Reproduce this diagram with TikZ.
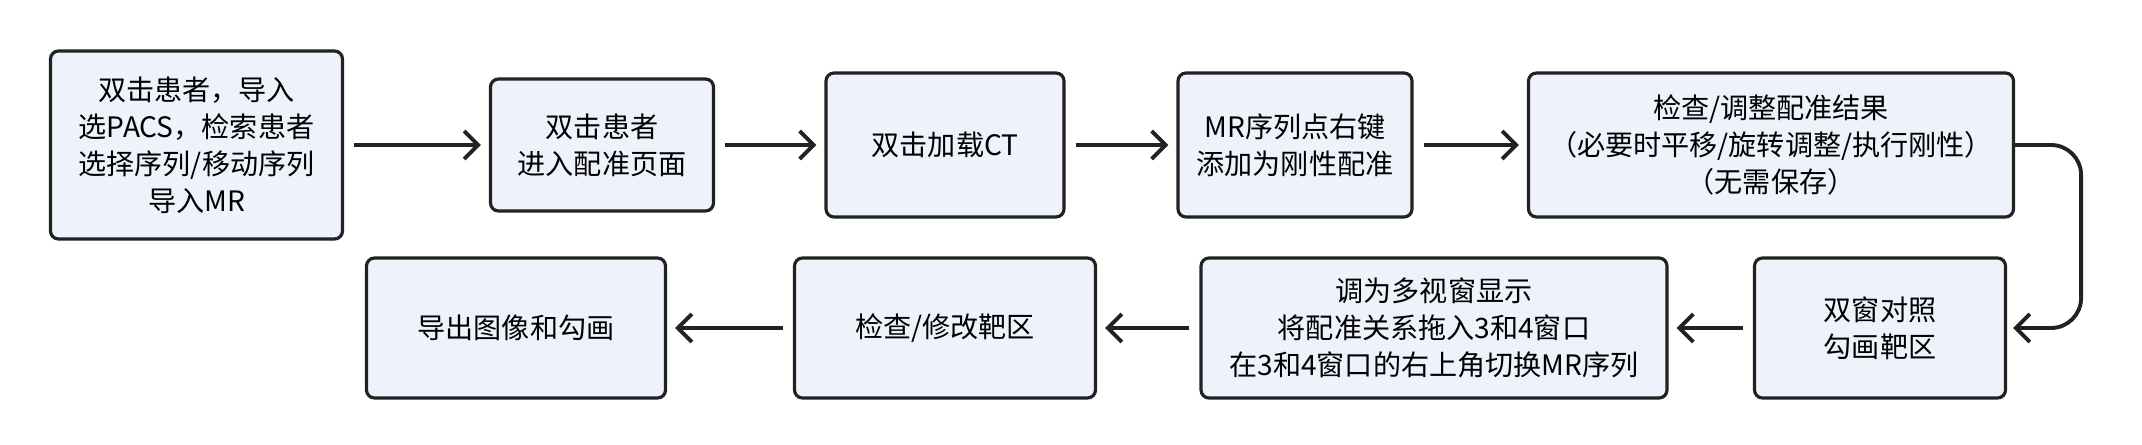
\documentclass[tikz,border=0pt]{standalone}
\usepackage{fontspec}
\newfontfamily\cjk{Noto Sans CJK SC}
\usetikzlibrary{arrows.meta}
\definecolor{box fill}{RGB}{238, 242, 251}
\definecolor{box line}{RGB}{34, 34, 34}

\begin{document}
\begin{tikzpicture}[
        font=\cjk\fontsize{8}{10.5}\selectfont,
        stepbox/.style={
            draw=box line,
            line width=0.9pt,
            fill=box fill,
            rounded corners=0.08cm,
            align=center,
            inner sep=0pt
        },
        flow/.style={
            draw=box line,
            line width=1.1pt,
            -{Straight Barb[length=0.14cm,width=0.28cm]}
        }
    ]
    \useasboundingbox (0,0) rectangle (21.42,4.44);

    % top row
    \node[stepbox, minimum width=2.92cm, minimum height=1.88cm] (import) at (1.965,2.99)
        {双击患者，导入\\选PACS，检索患者\\选择序列/移动序列\\导入MR};
    \node[stepbox, minimum width=2.23cm, minimum height=1.32cm] (enter) at (6.02,2.99)
        {双击患者\\进入配准页面};
    \node[stepbox, minimum width=2.38cm, minimum height=1.44cm] (loadct) at (9.45,2.99)
        {双击加载CT};
    \node[stepbox, minimum width=2.34cm, minimum height=1.44cm] (rigid) at (12.95,2.99)
        {MR序列点右键\\添加为刚性配准};
    \node[stepbox, minimum width=4.85cm, minimum height=1.44cm] (check) at (17.71,2.99)
        {检查/调整配准结果\\（必要时平移/旋转调整/执行刚性）\\（无需保存）};

    % bottom row
    \node[stepbox, minimum width=2.51cm, minimum height=1.40cm] (contour) at (18.80,1.16)
        {双窗对照\\勾画靶区};
    \node[stepbox, minimum width=4.66cm, minimum height=1.40cm] (multi) at (14.34,1.16)
        {调为多视窗显示\\将配准关系拖入3和4窗口\\在3和4窗口的右上角切换MR序列};
    \node[stepbox, minimum width=3.01cm, minimum height=1.40cm] (target) at (9.45,1.16)
        {检查/修改靶区};
    \node[stepbox, minimum width=2.99cm, minimum height=1.40cm] (export) at (5.16,1.16)
        {导出图像和勾画};

    % connectors
    \draw[flow] ([xshift=0.1cm]import.east) -- ([xshift=-0.08cm]enter.west);
    \draw[flow] ([xshift=0.1cm]enter.east) -- ([xshift=-0.08cm]loadct.west);
    \draw[flow] ([xshift=0.1cm]loadct.east) -- ([xshift=-0.08cm]rigid.west);
    \draw[flow] ([xshift=0.1cm]rigid.east) -- ([xshift=-0.08cm]check.west);
    \draw[flow, rounded corners=0.3cm] (check.east) -- ++(0.66,0) |- ([xshift=0.06cm]contour.east);
    \draw[flow] ([xshift=-0.1cm]contour.west) -- ([xshift=0.08cm]multi.east);
    \draw[flow] ([xshift=-0.1cm]multi.west) -- ([xshift=0.08cm]target.east);
    \draw[flow] ([xshift=-0.1cm]target.west) -- ([xshift=0.08cm]export.east);
\end{tikzpicture}
\end{document}
